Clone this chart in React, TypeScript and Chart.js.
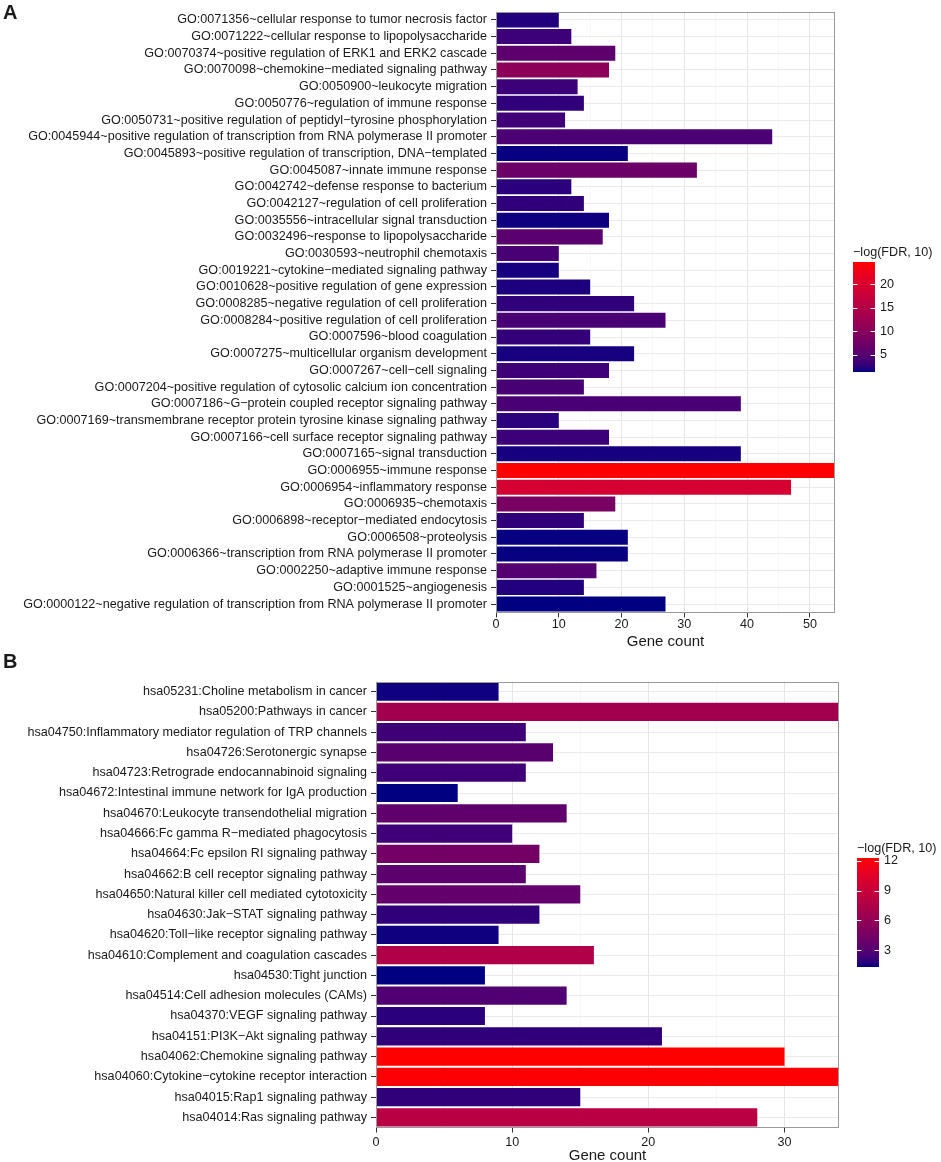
import React, { useEffect, useRef } from "react";
import { Chart, registerables } from "chart.js";
Chart.register(...registerables);

const FONT = "'Liberation Sans', Arial, Helvetica, sans-serif";
const TEXT = "#1a1a1a";

// ---------- Panel A: GO terms ----------
const goTerms = [
  "GO:0071356~cellular response to tumor necrosis factor",
  "GO:0071222~cellular response to lipopolysaccharide",
  "GO:0070374~positive regulation of ERK1 and ERK2 cascade",
  "GO:0070098~chemokine\u2212mediated signaling pathway",
  "GO:0050900~leukocyte migration",
  "GO:0050776~regulation of immune response",
  "GO:0050731~positive regulation of peptidyl\u2212tyrosine phosphorylation",
  "GO:0045944~positive regulation of transcription from RNA polymerase II promoter",
  "GO:0045893~positive regulation of transcription, DNA\u2212templated",
  "GO:0045087~innate immune response",
  "GO:0042742~defense response to bacterium",
  "GO:0042127~regulation of cell proliferation",
  "GO:0035556~intracellular signal transduction",
  "GO:0032496~response to lipopolysaccharide",
  "GO:0030593~neutrophil chemotaxis",
  "GO:0019221~cytokine\u2212mediated signaling pathway",
  "GO:0010628~positive regulation of gene expression",
  "GO:0008285~negative regulation of cell proliferation",
  "GO:0008284~positive regulation of cell proliferation",
  "GO:0007596~blood coagulation",
  "GO:0007275~multicellular organism development",
  "GO:0007267~cell\u2212cell signaling",
  "GO:0007204~positive regulation of cytosolic calcium ion concentration",
  "GO:0007186~G\u2212protein coupled receptor signaling pathway",
  "GO:0007169~transmembrane receptor protein tyrosine kinase signaling pathway",
  "GO:0007166~cell surface receptor signaling pathway",
  "GO:0007165~signal transduction",
  "GO:0006955~immune response",
  "GO:0006954~inflammatory response",
  "GO:0006935~chemotaxis",
  "GO:0006898~receptor\u2212mediated endocytosis",
  "GO:0006508~proteolysis",
  "GO:0006366~transcription from RNA polymerase II promoter",
  "GO:0002250~adaptive immune response",
  "GO:0001525~angiogenesis",
  "GO:0000122~negative regulation of transcription from RNA polymerase II promoter",
];
const goCounts = [10, 12, 19, 18, 13, 14, 11, 44, 21, 32, 12, 14, 18, 17, 10, 10, 15, 22, 27, 15, 22, 18, 14, 39, 10, 18, 39, 54, 47, 19, 14, 21, 21, 16, 14, 27];
const goLogFdr = [2.1, 3.3, 5.8, 10.5, 3.3, 2.7, 3.6, 4.3, 1.5, 7.0, 2.45, 2.7, 1.6, 5.5, 4.1, 1.75, 1.9, 2.7, 4.2, 2.9, 1.75, 3.5, 4.1, 4.2, 2.4, 3.3, 1.75, 24.7, 19.1, 8.4, 2.7, 1.5, 1.5, 5.1, 2.1, 1.4];
const goAxisMax = 54;
const goLegendTicks = [5, 10, 15, 20];

// ---------- Panel B: KEGG pathways ----------
const keggTerms = [
  "hsa05231:Choline metabolism in cancer",
  "hsa05200:Pathways in cancer",
  "hsa04750:Inflammatory mediator regulation of TRP channels",
  "hsa04726:Serotonergic synapse",
  "hsa04723:Retrograde endocannabinoid signaling",
  "hsa04672:Intestinal immune network for IgA production",
  "hsa04670:Leukocyte transendothelial migration",
  "hsa04666:Fc gamma R\u2212mediated phagocytosis",
  "hsa04664:Fc epsilon RI signaling pathway",
  "hsa04662:B cell receptor signaling pathway",
  "hsa04650:Natural killer cell mediated cytotoxicity",
  "hsa04630:Jak\u2212STAT signaling pathway",
  "hsa04620:Toll\u2212like receptor signaling pathway",
  "hsa04610:Complement and coagulation cascades",
  "hsa04530:Tight junction",
  "hsa04514:Cell adhesion molecules (CAMs)",
  "hsa04370:VEGF signaling pathway",
  "hsa04151:PI3K\u2212Akt signaling pathway",
  "hsa04062:Chemokine signaling pathway",
  "hsa04060:Cytokine\u2212cytokine receptor interaction",
  "hsa04015:Rap1 signaling pathway",
  "hsa04014:Ras signaling pathway",
];
const keggCounts = [9, 34, 11, 13, 11, 6, 14, 10, 12, 11, 15, 12, 9, 16, 8, 14, 8, 21, 30, 34, 15, 28];
const keggLogFdr = [1.4, 6.8, 2.3, 3.2, 2.3, 1.3, 3.5, 2.3, 4.3, 3.3, 3.6, 1.9, 1.4, 7.6, 1.3, 2.85, 1.8, 1.9, 12.3, 12.2, 1.9, 8.1];
const keggAxisMax = 34;
const keggLegendTicks = [3, 6, 9, 12];

const LEGEND_TITLE = "\u2212log(FDR, 10)";
const LOW = [0, 0, 128];
const HIGH = [255, 0, 0];

// ---------- Lab colour interpolation (as ggplot's gradient) ----------
function toLin(c: number) {
  c /= 255;
  return c <= 0.04045 ? c / 12.92 : Math.pow((c + 0.055) / 1.055, 2.4);
}
function fromLin(c: number) {
  const v = c <= 0.0031308 ? 12.92 * c : 1.055 * Math.pow(c, 1 / 2.4) - 0.055;
  return Math.round(Math.max(0, Math.min(1, v)) * 255);
}
const XN = 0.95047, YN = 1, ZN = 1.08883;
function fLab(t: number) {
  return t > 0.008856 ? Math.cbrt(t) : 7.787 * t + 16 / 116;
}
function fInv(t: number) {
  const t3 = t * t * t;
  return t3 > 0.008856 ? t3 : (t - 16 / 116) / 7.787;
}
function rgbToLab(rgb: number[]) {
  const r = toLin(rgb[0]), g = toLin(rgb[1]), b = toLin(rgb[2]);
  const x = (0.4124 * r + 0.3576 * g + 0.1805 * b) / XN;
  const y = (0.2126 * r + 0.7152 * g + 0.0722 * b) / YN;
  const z = (0.0193 * r + 0.1192 * g + 0.9505 * b) / ZN;
  const fx = fLab(x), fy = fLab(y), fz = fLab(z);
  return [116 * fy - 16, 500 * (fx - fy), 200 * (fy - fz)];
}
function labToRgb(lab: number[]) {
  const fy = (lab[0] + 16) / 116;
  const fx = fy + lab[1] / 500;
  const fz = fy - lab[2] / 200;
  const x = fInv(fx) * XN, y = fInv(fy) * YN, z = fInv(fz) * ZN;
  const r = 3.2406 * x - 1.5372 * y - 0.4986 * z;
  const g = -0.9689 * x + 1.8758 * y + 0.0415 * z;
  const b = 0.0557 * x - 0.204 * y + 1.057 * z;
  return [fromLin(r), fromLin(g), fromLin(b)];
}
const LAB_LO = rgbToLab(LOW);
const LAB_HI = rgbToLab(HIGH);
function colorAt(t: number) {
  t = Math.max(0, Math.min(1, t));
  const lab = [0, 1, 2].map((i) => LAB_LO[i] + (LAB_HI[i] - LAB_LO[i]) * t);
  const c = labToRgb(lab);
  return `rgb(${c[0]},${c[1]},${c[2]})`;
}

// ---------- decoration plugin ----------
const decoPlugin = {
  id: "deco",
  afterDraw(chart: any, _args: any, opts: any) {
    const ctx = chart.ctx;
    const ca = chart.chartArea;
    ctx.save();
    // panel border
    ctx.strokeStyle = "#9a9a9a";
    ctx.lineWidth = 1;
    ctx.strokeRect(Math.round(ca.left) + 0.5, Math.round(ca.top) + 0.5, Math.round(ca.right - ca.left) - 1, Math.round(ca.bottom - ca.top) - 1);

    // axis title
    ctx.fillStyle = TEXT;
    ctx.font = `15px ${FONT}`;
    ctx.textAlign = "center";
    ctx.textBaseline = "alphabetic";
    ctx.fillText("Gene count", (ca.left + ca.right) / 2, opts.titleBaseline);

    // panel letter
    ctx.font = `bold 20px ${FONT}`;
    ctx.textAlign = "left";
    ctx.fillText(opts.letter, 3, opts.letterBaseline);

    // colour bar
    const lg = opts.legend;
    const lo = opts.lo, hi = opts.hi;
    const grad = ctx.createLinearGradient(0, lg.y + lg.h, 0, lg.y);
    for (let i = 0; i <= 20; i++) grad.addColorStop(i / 20, colorAt(i / 20));
    ctx.fillStyle = grad;
    ctx.fillRect(lg.x, lg.y, lg.w, lg.h);
    ctx.strokeStyle = "#ffffff";
    ctx.lineWidth = 1;
    ctx.fillStyle = TEXT;
    ctx.font = `12.6px ${FONT}`;
    ctx.textBaseline = "middle";
    ctx.textAlign = "left";
    for (const v of opts.legendTicks) {
      const yy = lg.y + lg.h - ((v - lo) / (hi - lo)) * lg.h;
      const py = Math.round(yy) + 0.5;
      ctx.beginPath();
      ctx.moveTo(lg.x, py);
      ctx.lineTo(lg.x + lg.w / 5, py);
      ctx.moveTo(lg.x + lg.w - lg.w / 5, py);
      ctx.lineTo(lg.x + lg.w, py);
      ctx.stroke();
      ctx.fillText(String(v), lg.x + lg.w + 5, yy);
    }
    ctx.fillText(LEGEND_TITLE, lg.x, lg.titleY);
    ctx.restore();
  },
};

type PanelProps = {
  top: number;
  height: number;
  labels: string[];
  counts: number[];
  fdr: number[];
  xMax: number;
  legendTicks: number[];
  area: { left: number; right: number; top: number; bottom: number };
  legend: { x: number; y: number; w: number; h: number; titleY: number };
  letter: string;
  letterBaseline: number;
  titleBaseline: number;
  tickPad: number;
};

function BarPanel(p: PanelProps) {
  const ref = useRef<HTMLCanvasElement>(null);
  useEffect(() => {
    const lo = Math.min(...p.fdr);
    const hi = Math.max(...p.fdr);
    const colors = p.fdr.map((v) => colorAt((v - lo) / (hi - lo)));
    const isMajor = (ctx: any) => ctx.tick && Math.abs(ctx.tick.value % 10) < 1e-9;
    const chart = new Chart(ref.current as HTMLCanvasElement, {
      type: "bar",
      data: {
        labels: p.labels,
        datasets: [
          {
            data: p.counts,
            backgroundColor: colors,
            borderWidth: 0,
            barPercentage: 0.9,
            categoryPercentage: 1,
          },
        ],
      },
      options: {
        indexAxis: "y",
        responsive: false,
        animation: false,
        layout: { padding: { left: 0, right: 941 - p.area.right, top: p.area.top, bottom: 0 } },
        plugins: {
          legend: { display: false },
          tooltip: { enabled: false },
          deco: {
            letter: p.letter,
            letterBaseline: p.letterBaseline,
            titleBaseline: p.titleBaseline,
            legend: p.legend,
            legendTicks: p.legendTicks,
            lo,
            hi,
          },
        } as any,
        scales: {
          x: {
            type: "linear",
            min: 0,
            max: p.xMax,
            afterFit: (s: any) => {
              s.height = p.height - p.area.bottom;
            },
            ticks: {
              stepSize: 5,
              includeBounds: false,
              autoSkip: false,
              maxRotation: 0,
              padding: p.tickPad,
              color: TEXT,
              font: { family: FONT, size: 12.6 },
              callback: (v: any) => (Math.abs(Number(v) % 10) < 1e-9 ? String(v) : ""),
            },
            grid: {
              color: (ctx: any) => (isMajor(ctx) ? "#e6e6e6" : "#f3f3f3"),
              lineWidth: (ctx: any) => (isMajor(ctx) ? 1 : 0.6),
              tickLength: 5,
              tickColor: (ctx: any) => (isMajor(ctx) ? "#333333" : "rgba(0,0,0,0)"),
              drawTicks: true,
            },
            border: { display: false },
          },
          y: {
            type: "category",
            offset: true,
            afterFit: (s: any) => {
              s.width = p.area.left;
            },
            ticks: {
              autoSkip: false,
              padding: 4,
              color: TEXT,
              font: { family: FONT, size: 12.6 },
            },
            grid: {
              offset: false,
              color: "#ebebeb",
              lineWidth: 1,
              tickLength: 5,
              tickColor: "#333333",
              drawTicks: true,
            },
            border: { display: false },
          },
        } as any,
      } as any,
      plugins: [decoPlugin as any],
    });
    return () => chart.destroy();
  }, []);
  return (
    <canvas
      ref={ref}
      width={941}
      height={p.height}
      style={{ position: "absolute", left: 0, top: p.top, width: 941, height: p.height }}
    />
  );
}

export default function App() {
  return (
    <div style={{ position: "fixed", left: 0, top: 0, width: 941, height: 1162, background: "#ffffff", overflow: "hidden" }}>
      <BarPanel
        top={0}
        height={650}
        labels={goTerms}
        counts={goCounts}
        fdr={goLogFdr}
        xMax={goAxisMax}
        legendTicks={goLegendTicks}
        area={{ left: 496, right: 835, top: 4.6, bottom: 612.4 }}
        legend={{ x: 853, y: 262, w: 22, h: 110, titleY: 253 }}
        letter="A"
        letterBaseline={18.5}
        titleBaseline={645.5}
        tickPad={0}
      />
      <BarPanel
        top={650}
        height={512}
        labels={keggTerms}
        counts={keggCounts}
        fdr={keggLogFdr}
        xMax={keggAxisMax}
        legendTicks={keggLegendTicks}
        area={{ left: 376, right: 839, top: 31.5, bottom: 477.5 }}
        legend={{ x: 857, y: 208, w: 22, h: 109, titleY: 199 }}
        letter="B"
        letterBaseline={18}
        titleBaseline={510}
        tickPad={2.5}
      />
    </div>
  );
}
